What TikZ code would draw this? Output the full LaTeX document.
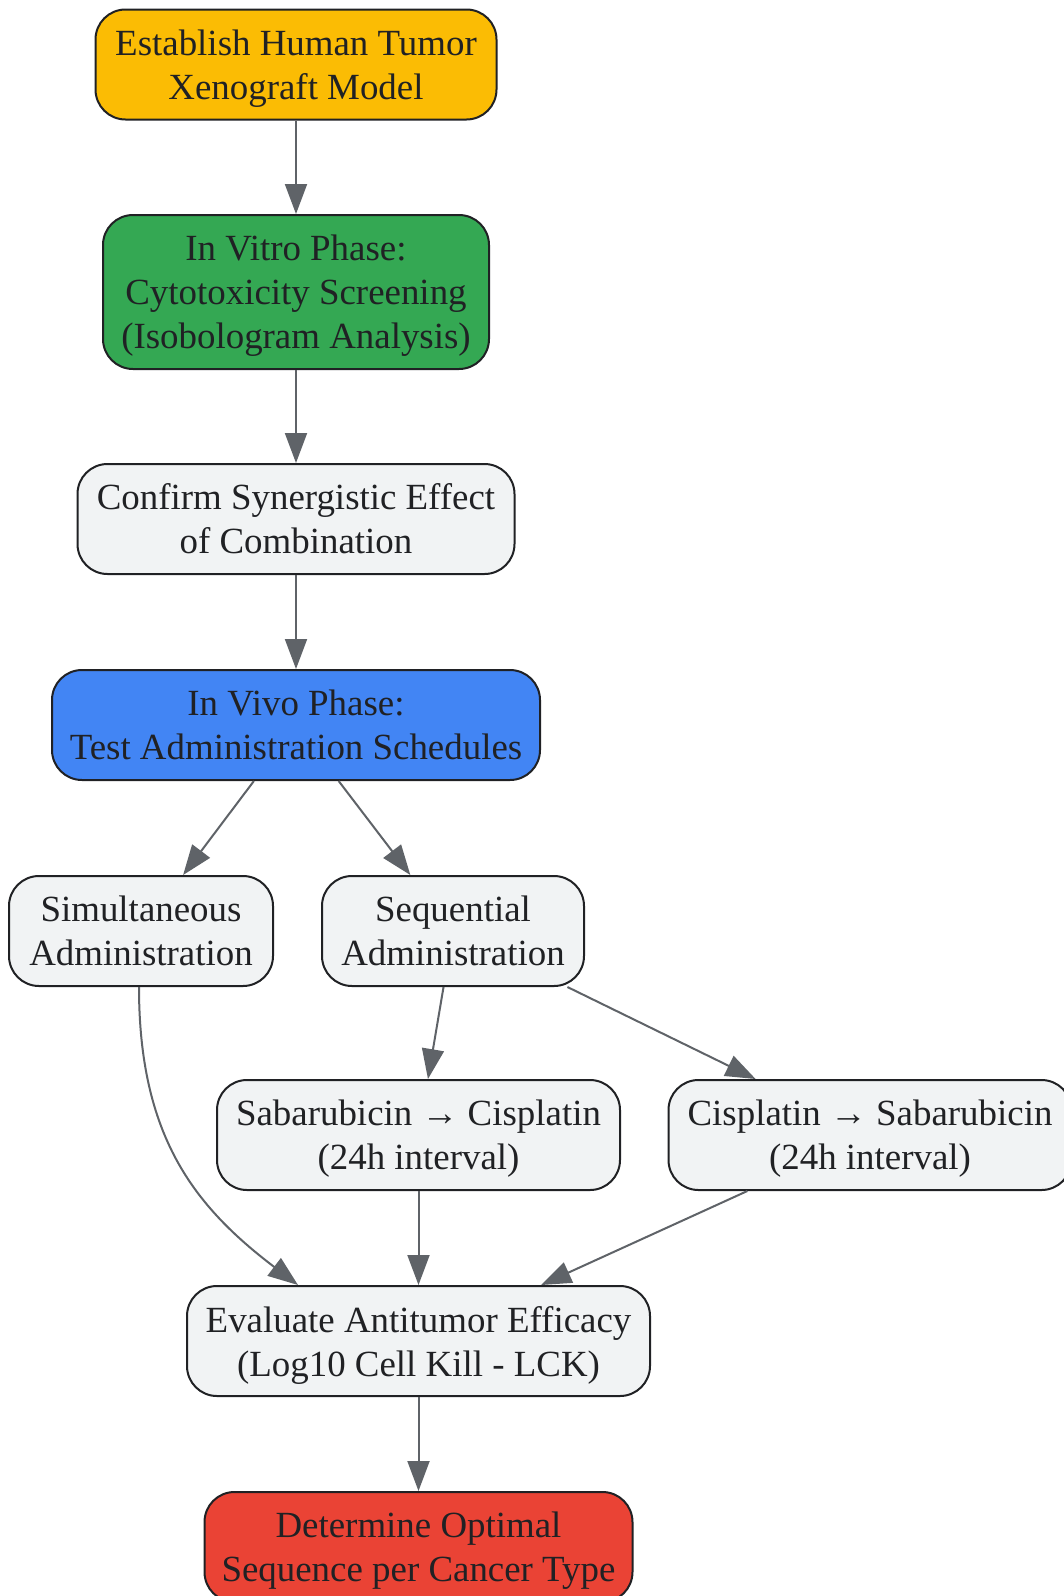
\documentclass[tikz,border=0pt]{standalone}
\usepackage{fontspec}
\setmainfont{Liberation Serif}
\usetikzlibrary{arrows.meta,calc}
\definecolor{cyellow}{HTML}{FBBC04}
\definecolor{cgreen}{HTML}{34A853}
\definecolor{cblue}{HTML}{4285F4}
\definecolor{cred}{HTML}{EA4335}
\definecolor{cgray}{HTML}{F1F3F4}
\definecolor{cborder}{HTML}{202124}
\definecolor{cedge}{HTML}{5F6368}
\tikzset{
  box/.style={draw=cborder, line width=1pt, rounded corners=15pt, align=center,
    inner sep=0pt, text=cborder, fill=cgray, minimum height=55pt, text depth=-0.5pt,
    font=\fontsize{18.45pt}{22pt}\selectfont},
  edge/.style={draw=cedge, line width=1pt, -{Triangle[length=15pt,width=11pt]}, color=cedge}
}
\begin{document}
\begin{tikzpicture}[x=0.5pt,y=-0.5pt]
\useasboundingbox (0,0) rectangle (1064,1596);
\node[box, fill=cyellow, minimum width=200.5pt] (n1) at (296,64.5) {Establish Human Tumor\\Xenograft Model};
\node[box, fill=cgreen, minimum width=193pt, minimum height=77pt] (n2) at (296,292) {In Vitro Phase:\\Cytotoxicity Screening\\(Isobologram Analysis)};
\node[box, minimum width=218.5pt] (n3) at (296,519) {Confirm Synergistic Effect\\of Combination};
\node[box, fill=cblue, minimum width=244pt] (n4) at (296,725) {In Vivo Phase:\\Test Administration Schedules};
\node[box, minimum width=132pt] (n5) at (141,931) {Simultaneous\\Administration};
\node[box, minimum width=131pt] (n6) at (453,931) {Sequential\\Administration};
\node[box, minimum width=201.5pt] (n7) at (418.5,1135) {Sabarubicin → Cisplatin\\(24h interval)};
\node[box, minimum width=201.5pt] (n8) at (870,1135) {Cisplatin → Sabarubicin\\(24h interval)};
\node[box, minimum width=231.5pt] (n9) at (418.5,1341) {Evaluate Antitumor Efficacy\\(Log10 Cell Kill - LCK)};
\node[box, fill=cred, minimum width=214pt] (n10) at (418.5,1547) {Determine Optimal\\Sequence per Cancer Type};
\draw[edge] (n1) -- (n2);
\draw[edge] (n2) -- (n3);
\draw[edge] (n3) -- (n4);
\draw[edge] (n4) -- (n5);
\draw[edge] (n4) -- (n6);
\draw[edge] (n6) -- (n7);
\draw[edge] (n6) -- (n8);
\draw[edge] ($(n5.south)+(-2,0)$) .. controls (139,1136) and (194,1206) .. ($(n9.north)+(-120.5,0)$);
\draw[edge] (n7) -- (n9);
\draw[edge] (n8) -- (n9);
\draw[edge] (n9) -- (n10);
\end{tikzpicture}
\end{document}
